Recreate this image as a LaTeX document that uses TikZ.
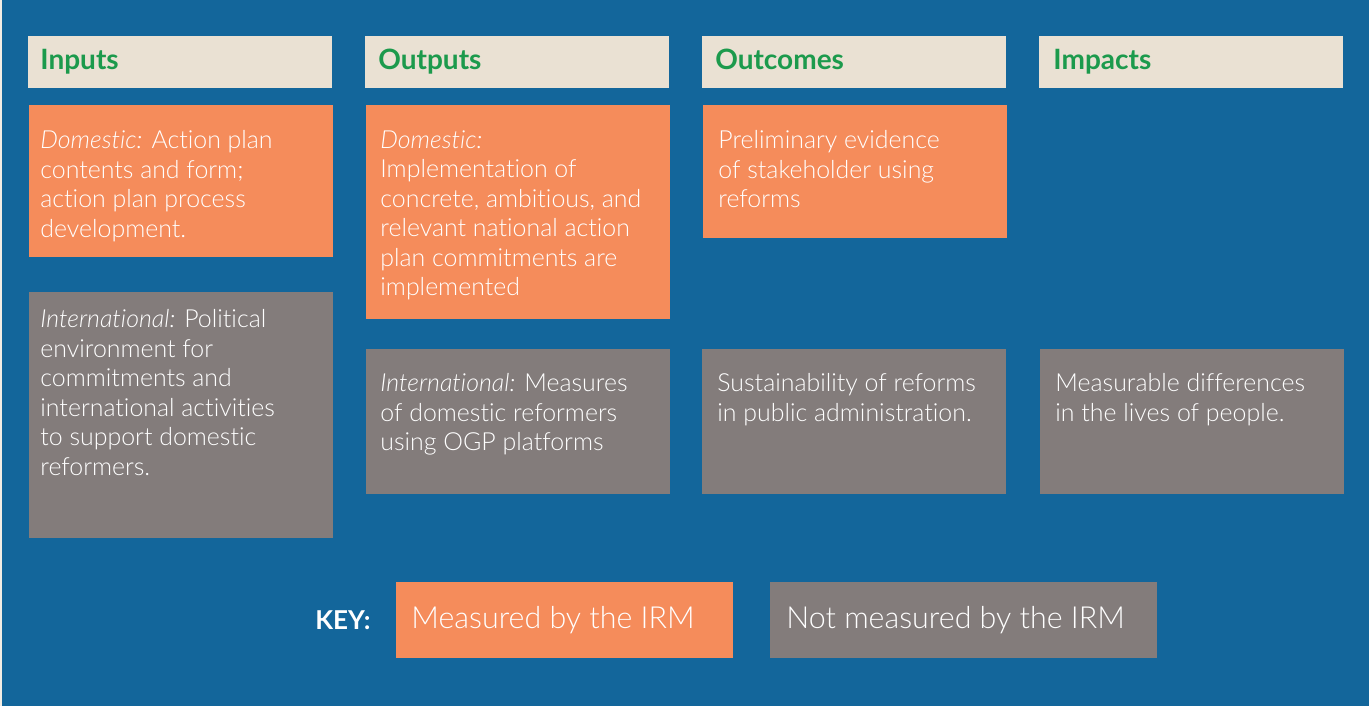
\documentclass[tikz,border=0pt]{standalone}
\usepackage{fontspec}
\setmainfont{Lato}[UprightFont={* Light}, ItalicFont={* Light Italic}, BoldFont={* Bold}, RawFeature={-liga;-dlig;-clig}]
\definecolor{bgblue}{HTML}{13669B}
\definecolor{orangebox}{HTML}{F58C5B}
\definecolor{graybox}{HTML}{837C7B}
\definecolor{headbg}{HTML}{EAE1D3}
\definecolor{headgreen}{HTML}{1C9A4C}
\newcommand{\lbl}[1]{{\itshape #1}}
\tikzset{
  cell/.style={anchor=north west, inner sep=0pt, outer sep=0pt, minimum width=#1*0.5pt},
  headbox/.style={cell=304, fill=headbg, minimum height=26pt},
  obox/.style={cell=304, fill=orangebox},
  gbox/.style={cell=304, fill=graybox},
  headtxt/.style={anchor=base west, inner sep=0pt, text=headgreen, font=\fontsize{14}{16}\selectfont\bfseries},
  bodytxt/.style={anchor=north west, inner sep=0pt, text=white, align=left, font=\fontsize{12.45}{14.75}\selectfont},
  keytxt/.style={anchor=base west, inner sep=0pt, text=white, font=\fontsize{15.2}{18}\selectfont},
}
\begin{document}
\begin{tikzpicture}[x=0.5pt,y=-0.5pt]
\useasboundingbox (0,0) rectangle (1369,706);
\fill[bgblue] (0,0) rectangle (1369,706);
\fill[headbg!60!white] (0,0) rectangle (2,706);
% headers
\node[headbox] (h1) at (28,36) {};
\node[headbox] (h2) at (365,36) {};
\node[headbox] (h3) at (702,36) {};
\node[headbox] (h4) at (1039,36) {};
\node[headtxt] (h1t) at (40,69) {Inputs};
\node[headtxt] (h2t) at (378,69) {Outputs};
\node[headtxt] (h3t) at (715,69) {Outcomes};
\node[headtxt] (h4t) at (1053,69) {Impacts};
% orange row
\node[obox, minimum height=76pt] (o1) at (29,105) {};
\node[obox, minimum height=107pt] (o2) at (366,105) {};
\node[obox, minimum height=66.5pt] (o3) at (703,105) {};
\node[bodytxt] (o1t) at (40,130) {\lbl{Domestic:} Action plan\\contents and form;\\action plan process\\development.};
\node[bodytxt] (o2t) at (380,130) {\lbl{Domestic:}\\Implementation of\\concrete, ambitious, and\\relevant national action\\plan commitments are\\implemented};
\node[bodytxt] (o3t) at (718,130) {Preliminary evidence\\of stakeholder using\\reforms};
% gray row
\node[gbox, minimum height=123pt] (g1) at (29,292) {};
\node[gbox, minimum height=72.5pt] (g2) at (366,349) {};
\node[gbox, minimum height=72.5pt] (g3) at (702,349) {};
\node[gbox, minimum height=72.5pt] (g4) at (1040,349) {};
\node[bodytxt] (g1t) at (40,309) {\lbl{International:} Political\\environment for\\commitments and\\international activities\\to support domestic\\reformers.};
\node[bodytxt] (g2t) at (380,373) {\lbl{International:} Measures\\of domestic reformers\\using OGP platforms};
\node[bodytxt] (g3t) at (717,373) {Sustainability of reforms\\in public administration.};
\node[bodytxt] (g4t) at (1055,373) {Measurable differences\\in the lives of people.};
% key
\node[anchor=base west, inner sep=0pt, text=white, font=\fontsize{13}{16}\selectfont\bfseries] (key) at (315,629) {KEY:};
\node[cell=337, fill=orangebox, minimum height=38pt] (k1) at (396,582) {};
\node[cell=387, fill=graybox, minimum height=38pt] (k2) at (770,582) {};
\node[keytxt] (k1t) at (411,628) {Measured by the IRM};
\node[keytxt] (k2t) at (786,628) {Not measured by the IRM};
\end{tikzpicture}
\end{document}
